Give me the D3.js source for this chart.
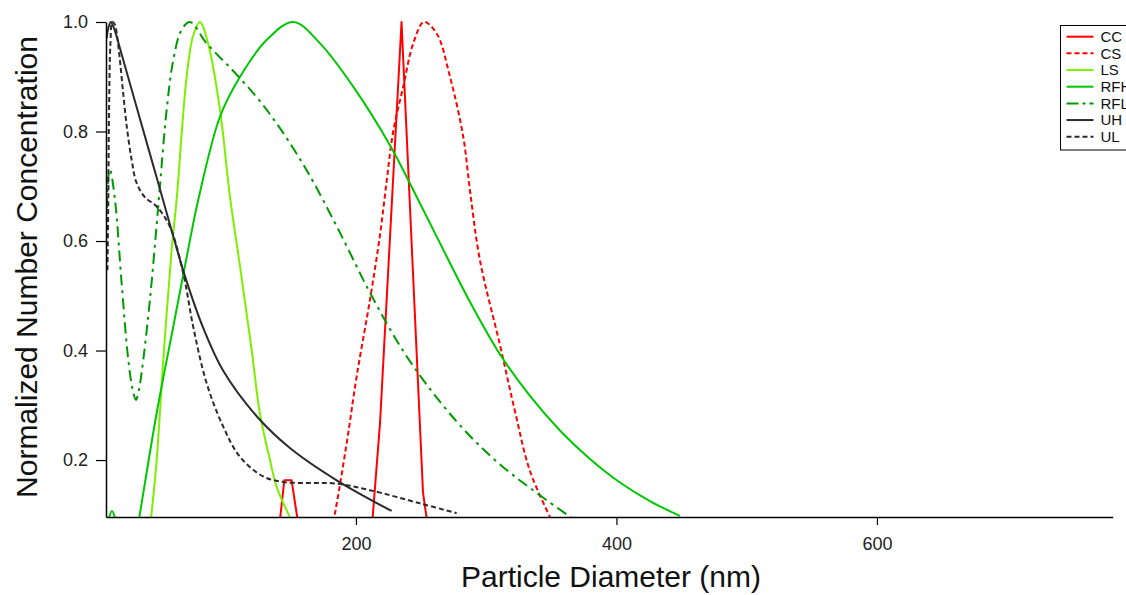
<!DOCTYPE html>
<html><head><meta charset="utf-8">
<script src="https://cdn.jsdelivr.net/npm/d3@7"></script>
<style>
body{margin:0;background:#fff;}
svg{display:block;font-family:"Liberation Sans",Arial,sans-serif;}
</style>
</head><body>
<svg id="chart" width="1126" height="595"></svg>
<script>
// ---------- data (diameter nm, normalized concentration) ----------
const seriesNames = ["CC","CS","LS","RFH","RFL","UH","UL"];
const xTickValues = [200, 400, 600];
const yTickValues = [0.2, 0.4, 0.6, 0.8, 1.0];

const dataCC = [[137.5,0.0],[145,0.163],[150.6,0.163],[161,0.0],[209.7,0.0],[218.5,0.268],[235,1.0],[251.5,0.14],[260,0.0]];
const dataCS = [[175,0.0],[183.9,0.103],[192.9,0.231],[200.5,0.352],[210.7,0.492],[218.4,0.61],[223.6,0.71],[228.6,0.8],[236.3,0.882],[244,0.961],[252.2,1.0],[262,0.979],[272.2,0.9],[282.4,0.79],[287.5,0.693],[295.2,0.565],[310.6,0.41],[322,0.29],[333.6,0.18],[349,0.096]];
const dataLS = [[38,0.0],[43.1,0.103],[47,0.2],[52.1,0.383],[58.5,0.584],[62.3,0.675],[70,0.9],[75,0.975],[80.2,1.0],[86.6,0.96],[95.6,0.84],[103.3,0.68],[110,0.57],[120,0.4],[126.2,0.286],[134,0.2],[139.1,0.151],[147.8,0.103],[155,0.07]];
const dataRFH = [[8.1,0.05],[10,0.09],[12.7,0.107],[15.5,0.09],[18,0.05],[24,0.0],[27,0.0],[34.2,0.103],[47,0.286],[59.7,0.443],[72.6,0.602],[78.9,0.675],[95.6,0.827],[111,0.9],[131.4,0.967],[151.9,1.0],[172.4,0.961],[197.9,0.882],[226.1,0.775],[241.5,0.705],[262,0.608],[287.5,0.489],[310.6,0.393],[333.6,0.317],[356.6,0.254],[379.7,0.202],[402.7,0.159],[425.7,0.125],[448.7,0.098]];
const dataRFL = [[8.8,0.66],[10,0.72],[11.2,0.73],[15,0.675],[20.1,0.523],[25.2,0.383],[28.5,0.33],[31.1,0.31],[33.5,0.33],[36.7,0.383],[41.8,0.492],[47,0.63],[49.5,0.7],[54.7,0.84],[59.7,0.93],[66,0.985],[72.6,1.0],[85.4,0.961],[108.4,0.904],[131.4,0.84],[159.5,0.74],[185.2,0.627],[210.7,0.506],[236.3,0.399],[262,0.314],[287.5,0.244],[310.6,0.192],[333.6,0.149],[362.8,0.099],[368.1,0.09]];
const dataUH = [[8.6,0.97],[10,0.99],[11.8,1.0],[14,0.99],[21.3,0.931],[34.2,0.823],[49.5,0.695],[59.7,0.609],[68.7,0.536],[82.8,0.441],[98.1,0.363],[123.8,0.28],[149.3,0.222],[185.2,0.163],[227.4,0.107]];
const dataUL = [[9.2,0.547],[9.8,0.66],[10.5,0.85],[11.5,0.96],[13,1.0],[15,0.995],[16.3,0.98],[18.8,0.93],[21.3,0.87],[24,0.81],[27.8,0.748],[31.6,0.706],[38,0.68],[47,0.663],[57.2,0.626],[67.4,0.541],[75.1,0.443],[85.4,0.34],[98.1,0.261],[110.9,0.206],[128.8,0.17],[144.2,0.16],[164.7,0.158],[185.2,0.157],[210.7,0.145],[249.1,0.121],[277.3,0.103]];

const seriesData = [dataCC, dataCS, dataLS, dataRFH, dataRFL, dataUH, dataUL];

// ---------- styles ----------
const smooth = d3.curveCatmullRom.alpha(0.5);
const styles = {
  CC:  {color:"#ff0000", dash:null, curve:d3.curveLinear},
  CS:  {color:"#ff0000", dash:"5,3", curve:smooth},
  LS:  {color:"#7cf000", dash:null, curve:smooth},
  RFH: {color:"#00c800", dash:null, curve:smooth},
  RFL: {color:"#009a00", dash:"11,5,3,5", curve:smooth},
  UH:  {color:"#2b2b2b", dash:null, curve:smooth},
  UL:  {color:"#2b2b2b", dash:"5,3", curve:smooth}
};

const svg = d3.select("#chart");
const plotLeft = 106, plotRight = 1112.7, plotTop = 22, plotBottom = 517;

const x = d3.scaleLinear().domain([8.1, 781]).range([plotLeft, plotRight]);
const y = d3.scaleLinear().domain([0.096, 1.0]).range([plotBottom, plotTop]);

svg.append("defs").append("clipPath").attr("id","plotclip")
  .append("rect").attr("x", plotLeft).attr("y", 0).attr("width", plotRight-plotLeft).attr("height", plotBottom);

const plot = svg.append("g").attr("clip-path","url(#plotclip)");

seriesNames.forEach((name, i) => {
  const st = styles[name];
  const line = d3.line().x(d => x(d[0])).y(d => y(d[1])).curve(st.curve);
  plot.append("path").datum(seriesData[i])
    .attr("d", line)
    .attr("fill","none")
    .attr("stroke", st.color)
    .attr("stroke-width", 2)
    .attr("stroke-dasharray", st.dash)
    .attr("stroke-linejoin","round");
});

// axes
const xAxis = d3.axisBottom(x).tickValues(xTickValues).tickFormat(d3.format("d"))
  .tickSize(8).tickSizeOuter(0).tickPadding(12);
const gx = svg.append("g").attr("transform", `translate(0,${plotBottom})`).call(xAxis);

const yAxis = d3.axisLeft(y).tickValues(yTickValues).tickFormat(d3.format(".1f"))
  .tickSize(10).tickSizeOuter(0).tickPadding(8);
const gy = svg.append("g").attr("transform", `translate(${plotLeft},0)`).call(yAxis);

[gx, gy].forEach(g => {
  g.select(".domain").attr("stroke","#000").attr("stroke-width",1.5);
  g.selectAll(".tick line").attr("stroke","#000").attr("stroke-width",1.2);
  g.selectAll(".tick text").attr("fill","#222").style("font-size","18px")
    .style("font-family",'"Liberation Sans",Arial,sans-serif');
});

// titles
svg.append("text").attr("x", 611).attr("y", 587).attr("text-anchor","middle")
  .style("font-size","30px").attr("fill","#111").text("Particle Diameter (nm)");
svg.append("text").attr("transform","translate(37,267) rotate(-90)").attr("text-anchor","middle")
  .style("font-size","30px").attr("fill","#111").text("Normalized Number Concentration");

// legend (box runs past the right edge, as in the reference)
const lg = svg.append("g");
lg.append("rect").attr("x",1060.5).attr("y",25.5).attr("width",90).attr("height",124.5)
  .attr("fill","#fff").attr("stroke","#000").attr("stroke-width",1);
seriesNames.forEach((name, i) => {
  const st = styles[name];
  const ry = 36.7 + i*16.67;
  lg.append("line").attr("x1",1066.5).attr("x2",1093.5).attr("y1",ry).attr("y2",ry)
    .attr("stroke",st.color).attr("stroke-width",2).attr("stroke-dasharray", st.dash === "11,5,3,5" ? "12,4,3,4" : st.dash);
  lg.append("text").attr("x",1100.5).attr("y",ry).attr("dy","0.36em")
    .style("font-size","15px").attr("fill","#111").text(name);
});
</script>
</body></html>
